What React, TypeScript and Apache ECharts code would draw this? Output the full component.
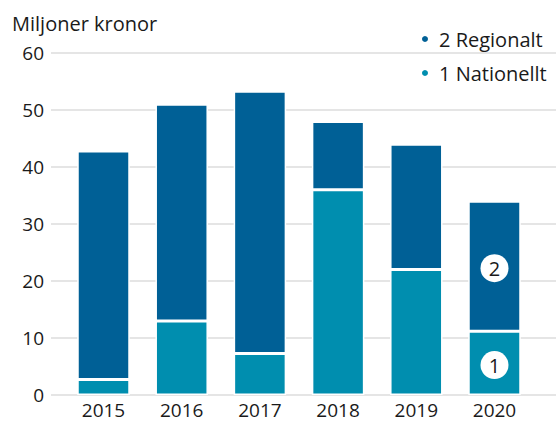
import React, { useEffect, useRef } from "react";
import * as echarts from "echarts";

const years = ["2015", "2016", "2017", "2018", "2019", "2020"];
const nationellt = [2.7, 13.0, 7.3, 36.0, 22.0, 11.2];
const regionalt = [40.1, 38.0, 46.0, 12.0, 22.0, 22.8];
const yTicks = { min: 0, max: 60, interval: 10 };
const unitTitle = "Miljoner kronor";
const seriesNames = ["1 Nationellt", "2 Regionalt"];
const markers = ["1", "2"];

const DARK = "#006096";
const TEAL = "#008EAF";
const FONT = "'Open Sans', sans-serif";
const TXT = "#1a1a1a";

const markerLabel = (t: string) => ({
  show: true,
  position: "inside",
  formatter: t,
  backgroundColor: "#ffffff",
  borderRadius: 14,
  width: 28,
  height: 28,
  lineHeight: 28,
  align: "center",
  verticalAlign: "middle",
  color: TXT,
  fontSize: 20,
  fontFamily: FONT,
  offset: [0, 2],
});

export default function App() {
  const ref = useRef<HTMLDivElement>(null);
  useEffect(() => {
    if (!ref.current) return;
    const chart = echarts.init(ref.current, undefined, { renderer: "svg" });
    const last = years.length - 1;
    const natData = nationellt.map((v, i) =>
      i === last ? { value: v, label: markerLabel(markers[0]) } : v
    );
    const regData = regionalt.map((v, i) =>
      i === last ? { value: v, label: markerLabel(markers[1]) } : v
    );
    const top = 53;
    const bottom = 28;
    chart.setOption({
      animation: false,
      backgroundColor: "#ffffff",
      textStyle: { fontFamily: FONT },
      title: {
        text: unitTitle,
        left: 12,
        top: 13,
        padding: 0,
        textStyle: { fontSize: 20, fontWeight: "normal", color: TXT, fontFamily: FONT },
      },
      legend: {
        data: [seriesNames[1], seriesNames[0]],
        orient: "vertical",
        left: 420,
        top: 29,
        padding: 0,
        icon: "circle",
        itemWidth: 8,
        itemHeight: 8,
        itemGap: 14,
        selectedMode: false,
        textStyle: { fontSize: 20, color: TXT, fontFamily: FONT, padding: [0, 0, 0, 5] },
      },
      grid: [
        { left: 51, right: 0, top, bottom },
        { left: 64.4, right: 22.4, top, bottom },
      ],
      xAxis: [
        { gridIndex: 0, type: "value", show: false, min: 0, max: 1 },
        {
          gridIndex: 1,
          type: "category",
          data: years,
          boundaryGap: true,
          axisLine: { show: false },
          axisTick: { show: false },
          axisLabel: { fontSize: 19, lineHeight: 16, color: TXT, margin: 7, fontFamily: FONT },
        },
      ],
      yAxis: [
        {
          gridIndex: 0,
          type: "value",
          min: yTicks.min,
          max: yTicks.max,
          interval: yTicks.interval,
          axisLine: { show: false },
          axisTick: { show: false },
          axisLabel: { fontSize: 19, color: TXT, margin: 7, fontFamily: FONT },
          splitLine: { show: true, lineStyle: { color: "#dcdcdc", width: 1.5 } },
        },
        {
          gridIndex: 1,
          type: "value",
          min: yTicks.min,
          max: yTicks.max,
          interval: yTicks.interval,
          show: false,
          splitLine: { show: false },
        },
      ],
      series: [
        {
          name: seriesNames[0],
          type: "bar",
          stack: "total",
          xAxisIndex: 1,
          yAxisIndex: 1,
          barWidth: 52.5,
          data: natData,
          itemStyle: { color: TEAL, borderColor: "#ffffff", borderWidth: 1.5 },
        },
        {
          name: seriesNames[1],
          type: "bar",
          stack: "total",
          xAxisIndex: 1,
          yAxisIndex: 1,
          barWidth: 52.5,
          data: regData,
          itemStyle: { color: DARK, borderColor: "#ffffff", borderWidth: 1.5 },
        },
      ],
    });
    return () => chart.dispose();
  }, []);
  return <div ref={ref} style={{ width: 556, height: 423, position: "absolute", left: 0, top: 0 }} />;
}
